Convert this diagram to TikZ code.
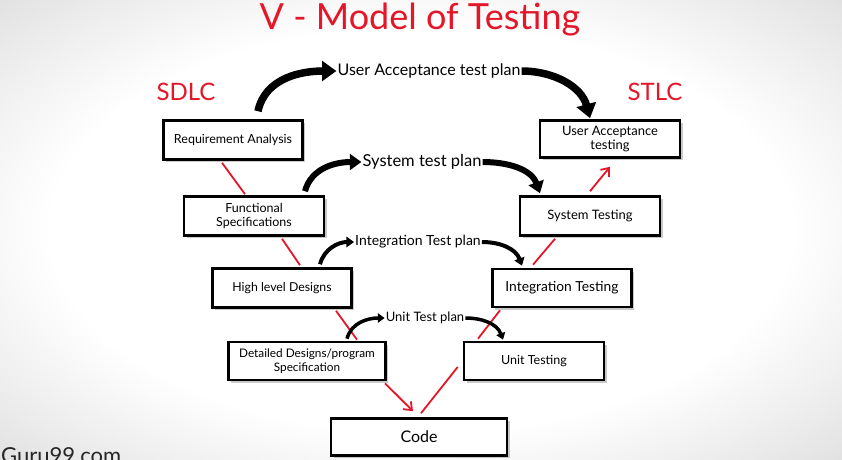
\documentclass[tikz,border=0pt]{standalone}
\usepackage{fontspec}
\setmainfont{Lato}
\usetikzlibrary{arrows.meta,shadows}
\definecolor{vred}{RGB}{228,22,40}
\pgfdeclareradialshading{bgshade}{\pgfpoint{0bp}{0bp}}{color(0bp)=(white); color(22bp)=(white); color(50bp)=(black!24); color(72bp)=(black!48)}
\newcommand{\fs}[1]{\fontsize{#1pt}{\dimexpr#1pt*23/20\relax}\selectfont}
\begin{document}
\begin{tikzpicture}[x=1pt,y=1pt,
  box/.style={draw=black, line width=2.6pt, fill=white, align=center, inner sep=2pt,
    drop shadow={shadow xshift=2.5pt, shadow yshift=-2.5pt, opacity=0.35, fill=black!60}},
  redline/.style={draw=vred, line width=1.8pt},
  redarrow/.style={redline, -{Straight Barb[length=7pt,width=11pt]}},
  plan/.style={inner sep=1pt},
  bigarrow/.style={draw=black, line cap=butt, -{Triangle[length=#1*1.9pt,width=#1*2.6pt]}, line width=#1 pt},
]
\useasboundingbox (0,0) rectangle (842,-459);
\clip (0,0) rectangle (842,-459);
\shade[shading=bgshade] (0,0) rectangle (842,-459);

% titles
\node[text=vred, font=\fs{36}] (title) at (420,-20) {V - Model of Testing};
\node[text=vred, font=\fs{24}] (sdlc) at (186,-92) {SDLC};
\node[text=vred, font=\fs{24}] (stlc) at (655,-92) {STLC};
\node[anchor=north west, text=black!85, font=\fs{22}, inner sep=0pt] (guru) at (1,-447) {Guru99.com};

% boxes
\node[box, minimum width=139pt, minimum height=39pt, font=\fs{12.5}] (req) at (233,-140) {Requirement Analysis};
\node[box, minimum width=140pt, minimum height=37pt, font=\fs{13}] (uat) at (610,-139) {User Acceptance\\testing};
\node[box, minimum width=140pt, minimum height=39pt, font=\fs{12.5}] (fs) at (254,-216) {Functional\\Specifications};
\node[box, minimum width=140pt, minimum height=39pt, font=\fs{13}] (st) at (590,-216) {System Testing};
\node[box, minimum width=139pt, minimum height=39pt, font=\fs{12.3}] (hld) at (282,-288) {High level Designs};
\node[box, minimum width=139pt, minimum height=38pt, font=\fs{13.8}] (it) at (562,-288) {Integration Testing};
\node[box, minimum width=157pt, minimum height=38pt, font=\fs{11.8}] (dd) at (307,-361) {Detailed Designs/program\\Specification};
\node[box, minimum width=140pt, minimum height=38pt, font=\fs{12.5}] (ut) at (534,-361) {Unit Testing};
\node[box, minimum width=176pt, minimum height=37pt, font=\fs{16}] (code) at (419,-437) {Code};

% plan labels
\node[plan, font=\fs{16}] (uatp) at (429,-71) {User Acceptance test plan};
\node[plan, font=\fs{16.5}] (stp) at (422,-162) {System test plan};
\node[plan, font=\fs{14}] (itp) at (418,-242) {Integration Test plan};
\node[plan, font=\fs{13}] (utp) at (425,-318) {Unit Test plan};

% red V connectors
\draw[redline] ([xshift=-11pt,yshift=-2pt]req.south) -- ([xshift=-9pt,yshift=1pt]fs.north);
\draw[redline] ([xshift=28pt,yshift=-2pt]fs.south) -- ([xshift=18pt,yshift=2pt]hld.north);
\draw[redline] ([xshift=54pt,yshift=-2pt]hld.south) -- ([xshift=50pt,yshift=1pt]dd.north);
\draw[redarrow] ([xshift=78pt,yshift=-2pt]dd.south) -- ([xshift=-6pt,yshift=6pt]code.north);
\draw[redline] ([xshift=2pt,yshift=4pt]code.north) -- ([xshift=-5pt,yshift=-6pt]ut.west);
\draw[redline] ([xshift=-56pt,yshift=2pt]ut.north) -- ([xshift=-62pt,yshift=-2pt]it.south);
\draw[redline] ([xshift=-29pt,yshift=3pt]it.north) -- ([xshift=-35pt,yshift=-2pt]st.south);
\draw[redarrow] ([xshift=0pt,yshift=4pt]st.north) -- ([xshift=0pt,yshift=-8pt]uat.south);

% black curved arrows
\draw[bigarrow=7.5] ([xshift=25pt,yshift=8pt]req.north) to[out=78,in=180] (uatp.west);
\draw[bigarrow=7.5] (uatp.east) to[out=0,in=105] ([xshift=-20pt,yshift=1pt]uat.north);
\draw[bigarrow=6] ([xshift=51pt,yshift=4pt]fs.north) to[out=75,in=180] (stp.west);
\draw[bigarrow=6] (stp.east) to[out=0,in=110] ([xshift=-50pt,yshift=2pt]st.north);
\draw[bigarrow=4] ([xshift=38pt,yshift=3pt]hld.north) to[out=75,in=180] (itp.west);
\draw[bigarrow=4] (itp.east) to[out=0,in=110] ([xshift=-40pt,yshift=2pt]it.north);
\draw[bigarrow=3.5] ([xshift=40pt,yshift=2pt]dd.north) to[out=75,in=180] (utp.west);
\draw[bigarrow=3.5] (utp.east) to[out=0,in=110] ([xshift=-31pt,yshift=1pt]ut.north);
\end{tikzpicture}
\end{document}
